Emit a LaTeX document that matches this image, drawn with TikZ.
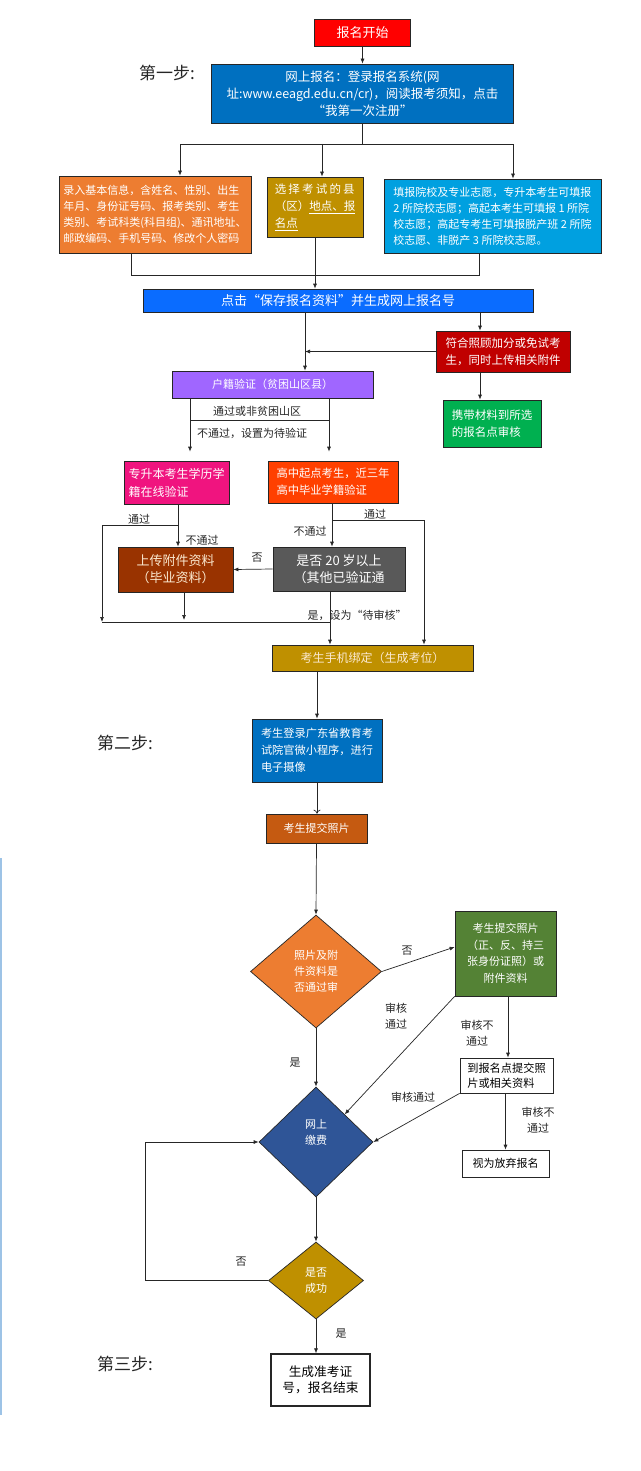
\documentclass[tikz,border=0pt]{standalone}
\usepackage{fontspec}
\newfontfamily\cjk{Noto Sans CJK SC}
\usetikzlibrary{arrows.meta,shapes.geometric,calc}
\definecolor{cred}{HTML}{FF0000}
\definecolor{cblue}{HTML}{0070C0}
\definecolor{corange}{HTML}{ED7D31}
\definecolor{cgold}{HTML}{BF9000}
\definecolor{csky}{HTML}{00A0E0}
\definecolor{cbar}{HTML}{0A6CFF}
\definecolor{cdred}{HTML}{C00000}
\definecolor{cpurple}{HTML}{A066FF}
\definecolor{cgreen}{HTML}{00B050}
\definecolor{cpink}{HTML}{F0147F}
\definecolor{cored}{HTML}{FF4000}
\definecolor{cbrown}{HTML}{993300}
\definecolor{cgray}{HTML}{595959}
\definecolor{corgtwo}{HTML}{C55A11}
\definecolor{cdgreen}{HTML}{548235}
\definecolor{cnavy}{HTML}{2F5597}
\definecolor{cedge}{HTML}{9DC3E6}
\definecolor{ccream}{HTML}{FBE9D0}
\newcommand\fsz[2]{\fontsize{#1}{#2}\selectfont}
\begin{document}
\begin{tikzpicture}[x=1pt,y=-1pt,
  rect/.style={draw=black!85, line width=0.7pt, inner sep=0pt, text=white, align=center, font=\cjk\fsz{11}{16.5}},
  wbox/.style={rect, fill=white, text=black},
  dia/.style={diamond, draw=black!85, line width=0.7pt, inner sep=0pt, text=white, align=center, font=\cjk\fsz{11}{16}},
  lbl/.style={inner sep=0pt, text=black!85, font=\cjk\fsz{11}{16}, align=center},
  steplbl/.style={inner sep=0pt, text=black!85, font=\cjk\fsz{17}{20}},
  arr/.style={-{Latex[length=5pt,width=4pt]}, line width=0.7pt, draw=black!85},
  ln/.style={line width=0.7pt, draw=black!85},
  sz/.style 2 args={minimum width=#1, minimum height=#2}]
\fill[white] (0,0) rectangle (640,1471);
\useasboundingbox (0,0) rectangle (640,1471);
\draw[cedge, line width=1.5pt] (0.75,858) -- (0.75,1415);

% ---- step 1
\node[rect, fill=cred, sz={96pt}{27pt}, font=\cjk\fsz{13}{16}] (start) at (362.5,32.5) {报名开始};
\node[rect, fill=cblue, sz={302pt}{59pt}, font=\cjk\fsz{12.5}{17}] (reg) at (362.5,93.5)
  {网上报名：登录报名系统(网\\址:www.eeagd.edu.cn/cr)，阅读报考须知，点击\\“我第一次注册”};
\node[steplbl] (s1) at (167,73) {第一步:};
\node[rect, fill=corange, sz={192pt}{77pt}, align=left, font=\cjk\fsz{11}{16}] (info) at (155,214.5)
  {录入基本信息，含姓名、性别、出生\\年月、身份证号码、报考类别、考生\\类别、考试科类(科目组)、通讯地址、\\邮政编码、手机号码、修改个人密码};
\node[rect, fill=cgold, sz={96pt}{60pt}, align=left, font=\cjk\fsz{11.5}{17}] (site) at (315,207)
  {\makebox[80pt][l]{选\hfill 择\hfill 考\hfill 试\hfill 的\hfill 县}\\（区）\underline{地点、报}\\\underline{名点}};
\node[rect, fill=csky, sz={217pt}{74pt}, align=left, font=\cjk\fsz{11}{16}] (choice) at (492.5,216)
  {填报院校及专业志愿，专升本考生可填报\\2 所院校志愿；高起本考生可填报 1 所院\\校志愿；高起专考生可填报脱产班 2 所院\\校志愿、非脱产 3 所院校志愿。};
\node[rect, fill=cbar, sz={390pt}{23pt}, font=\cjk\fsz{13}{16}] (save) at (338,300.5)
  {点击“保存报名资料”并生成网上报名号};
\node[rect, fill=cdred, sz={134pt}{41pt}, align=left, font=\cjk\fsz{11.5}{17}] (bonus) at (503,351.5)
  {符合照顾加分或免试考\\生，同时上传相关附件};
\node[rect, fill=cpurple, sz={201pt}{27pt}, font=\cjk\fsz{11}{16}] (hukou) at (272.5,384.5)
  {户籍验证（贫困山区县）};
\node[rect, fill=cgreen, sz={98pt}{47pt}, align=left, font=\cjk\fsz{11.5}{17}] (bring) at (492,423.5)
  {携带材料到所选\\的报名点审核};
\node[rect, fill=cpink, sz={105pt}{43pt}, align=left, font=\cjk\fsz{12}{18}] (zsb) at (176.5,482.5)
  {专升本考生学历学\\籍在线验证};
\node[rect, fill=cored, sz={130pt}{42pt}, align=left, font=\cjk\fsz{11.3}{17}] (gz) at (333,482)
  {高中起点考生，近三年\\高中毕业学籍验证};
\node[rect, fill=cbrown, sz={115pt}{45pt}, text=ccream, font=\cjk\fsz{13}{17}] (upload) at (175.5,569.5)
  {上传附件资料\\（毕业资料）};
\node[rect, fill=cgray, sz={132pt}{44pt}, font=\cjk\fsz{13}{17}] (age) at (339,569)
  {是否 20 岁以上\\（其他已验证通};
\node[rect, fill=cgold, sz={201pt}{26pt}, text=ccream, font=\cjk\fsz{12}{16}] (phone) at (372.5,658)
  {考生手机绑定（生成考位）};

% ---- step 2
\node[rect, fill=cblue, sz={130pt}{63pt}, align=left, font=\cjk\fsz{11.2}{17}] (login) at (317,750.5)
  {考生登录广东省教育考\\试院官微小程序，进行\\电子摄像};
\node[steplbl] (s2) at (125,743) {第二步:};
\node[rect, fill=corgtwo, sz={101pt}{29pt}, font=\cjk\fsz{11}{16}] (submit) at (316.5,828.5) {考生提交照片};
\node[dia, fill=corange, sz={131pt}{113pt}] (check) at (316,971.5) {照片及附\\件资料是\\否通过审};
\node[rect, fill=cdgreen, sz={101pt}{85pt}, font=\cjk\fsz{11}{16.5}] (green2) at (505.5,953.5)
  {考生提交照片\\（正、反、持三\\张身份证照）或\\附件资料};
\node[wbox, sz={93pt}{35pt}, align=left, font=\cjk\fsz{11.2}{15}] (goto) at (506.5,1075.5)
  {到报名点提交照\\片或相关资料};
\node[dia, fill=cnavy, sz={114pt}{110pt}] (pay) at (316,1142) {网上\\缴费\\[4pt]};
\node[wbox, sz={87pt}{27pt}, font=\cjk\fsz{11}{16}] (giveup) at (505.5,1163.5) {视为放弃报名};
\node[dia, fill=cgold, sz={95pt}{77pt}] (ok) at (316,1280.5) {是否\\成功};

% ---- step 3
\node[wbox, sz={99pt}{52pt}, line width=1.3pt, font=\cjk\fsz{12.7}{16.5}] (end) at (320.5,1380)
  {生成准考证\\号，报名结束};
\node[steplbl] (s3) at (125,1364) {第三步:};

% ---- connectors step 1
\draw[arr] (start.south) -- (reg.north);
\coordinate (split) at (362.5,144);
\draw[ln] (reg.south) -- (split);
\draw[arr] (split) -| ($(info.north)+(25,0)$);
\draw[arr] (split) -| ($(choice.north)+(20.5,0)$);
\coordinate (sitearr) at ($(site.north)+(7,0)$);
\draw[arr] (sitearr |- split) -- (sitearr);
\coordinate (infob) at ($(info.south)+(-24,0)$);
\coordinate (choiceb) at ($(choice.south)+(-13.5,0)$);
\coordinate (merge) at (0,275);
\draw[ln] (infob) -- (infob |- merge) -- (choiceb |- merge) -- (choiceb);
\draw[arr] (site.south) -- (site.south |- save.north);

\coordinate (c305) at (305,0);
\coordinate (c480) at (480,0);
\draw[arr] (save.south -| c305) -- (hukou.north -| c305);
\draw[arr] (save.south -| c480) -- (bonus.north -| c480);
\draw[arr] (bonus.west) -- (bonus.west -| c305);
\draw[arr] (bonus.south -| c480) -- (bring.north -| c480);

\coordinate (c190) at (190,0);
\coordinate (c329) at (329,0);
\coordinate (r420) at (0,420);
\draw[arr, shorten >=9pt] (hukou.south -| c190) -- (zsb.north -| c190);
\draw[arr, shorten >=9pt] (hukou.south -| c329) -- (gz.north -| c329);
\draw[ln] (c190 |- r420) -- (c329 |- r420);
\node[lbl] (l1) at (257,411) {通过或非贫困山区};
\node[lbl] (l2) at (252,433) {不通过，设置为待验证};

\coordinate (c178) at (178,0);
\coordinate (c102) at (102,0);
\coordinate (c184) at (184,0);
\coordinate (c330) at (330,0);
\coordinate (c332) at (332,0);
\coordinate (c424) at (424,0);
\coordinate (r525) at (0,525);
\coordinate (r520) at (0,520);
\coordinate (r622) at (0,622);
\draw[arr] (zsb.south -| c178) -- (upload.north -| c178);
\draw[arr] (c178 |- r525) -- (c102 |- r525) -- (c102 |- r622);
\draw[arr] (upload.south -| c184) -- ($(c184 |- r622)+(0,-2)$);
\draw[ln] (c102 |- r622) -- (c330 |- r622);
\draw[arr] (gz.south -| c332) -- (age.north -| c332);
\draw[arr] (c332 |- r520) -- (c424 |- r520) -- (phone.north -| c424);
\draw[arr] (age.west) -- (upload.east);
\draw[arr] (age.south -| c330) -- (phone.north -| c330);
\node[lbl] (l3) at (139,519) {通过};
\node[lbl] (l4) at (202,540) {不通过};
\node[lbl] (l5) at (257,558) {否};
\node[lbl] (l6) at (310,531) {不通过};
\node[lbl] (l7) at (375,514) {通过};
\node[lbl] (l8) at (357,615) {是，设为“待审核”};

% ---- connectors step 2
\draw[arr] (phone.south -| login.north) -- (login.north);
\draw[-{To[length=4pt,width=7pt]}, ln] (login.south) -- (login.south |- submit.north);
\draw[arr] (submit.south) -- (check.north);
\draw[arr] (check.east) -- ($(green2.west)+(0,-6.5)$);
\node[lbl] (l9) at (407,951) {否};
\draw[arr] (green2.south west) -- (pay.north east);
\node[lbl] (l10) at (396,1016) {审核\\通过};
\coordinate (c508) at (508,0);
\draw[arr] (green2.south -| c508) -- (goto.north -| c508);
\node[lbl] (l11) at (477,1033) {审核不\\通过};
\draw[arr] (goto.south west) -- (pay.east);
\node[lbl] (l12) at (413,1097) {审核通过};
\draw[arr] (goto.south -| giveup.north) -- (giveup.north);
\node[lbl] (l13) at (538,1120) {审核不\\通过};
\draw[arr] (check.south) -- (pay.north);
\node[lbl] (l14) at (295,1063) {是};
\draw[arr] (pay.south) -- (ok.north);
\coordinate (c145) at (145,0);
\draw[arr] (ok.west) -- (ok.west -| c145) -- (pay.west -| c145) -- (pay.west);
\node[lbl] (l15) at (241,1262) {否};
\draw[arr] (ok.south) -- (ok.south |- end.north);
\node[lbl] (l16) at (341,1334) {是};
\end{tikzpicture}
\end{document}
